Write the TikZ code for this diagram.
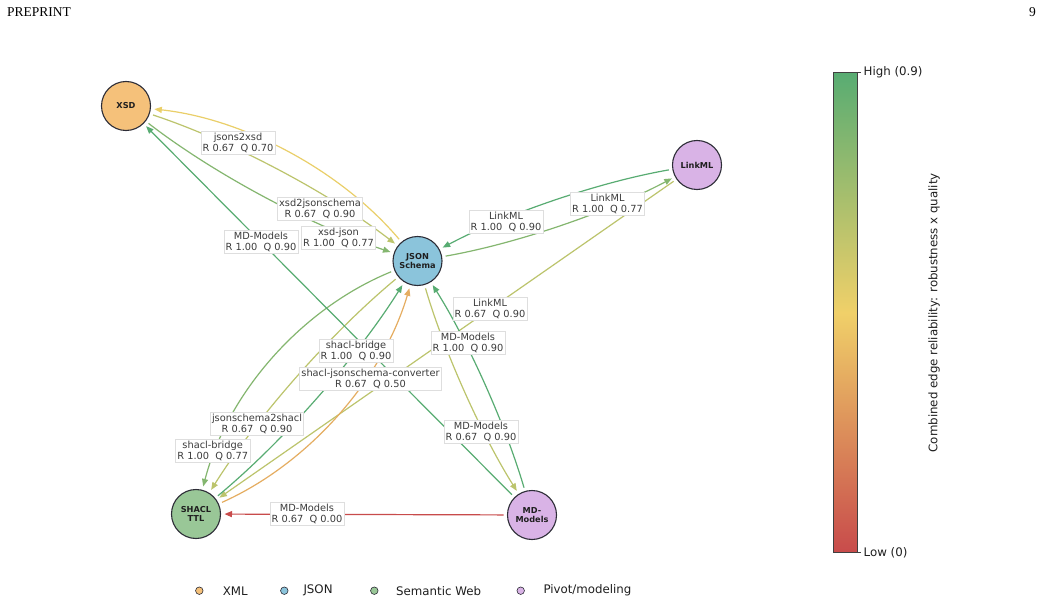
\documentclass[tikz,border=0pt]{standalone}
\usepackage{fontspec}
\setmainfont{DejaVu Sans}
\newfontfamily\headfont{Liberation Serif}
\usetikzlibrary{arrows.meta,calc}

\definecolor{cbred}{RGB}{200,75,75}
\definecolor{cbyellow}{RGB}{240,208,105}
\definecolor{cbgreen}{RGB}{88,172,114}
\colorlet{v000}{cbred}
\colorlet{v034}{cbyellow!74!cbred}
\colorlet{v047}{cbgreen!4!cbyellow}
\colorlet{v060}{cbgreen!34!cbyellow}
\colorlet{v077}{cbgreen!71!cbyellow}
\colorlet{v090}{cbgreen}
\definecolor{xmlc}{RGB}{245,193,122}
\definecolor{jsonc}{RGB}{139,196,219}
\definecolor{semc}{RGB}{153,199,151}
\definecolor{pivc}{RGB}{217,179,230}
\definecolor{nodeedge}{RGB}{45,45,55}
\definecolor{labtext}{RGB}{60,60,60}

\newcommand\arcedge[4]{% style, tail, head, 2*rad (positive = bulge to the right of travel)
  \coordinate (qq) at ($(#2.center)!0.5!(#3.center)!#4!-90:(#3.center)$);
  \coordinate (ca) at ($(#2.center)!2/3!(qq)$);
  \coordinate (cb) at ($(#3.center)!2/3!(qq)$);
  \draw[#1] (#2) .. controls (ca) and (cb) .. (#3);
}

\tikzset{
  gnode/.style={circle, draw=nodeedge, line width=1.1pt, minimum size=49pt,
    inner sep=0pt, outer sep=4pt, align=center, text=black!88,
    font=\fontsize{8.2}{8.8}\selectfont\bfseries},
  elab/.style={fill=white, draw=black!13, line width=0.6pt, inner sep=1.8pt,
    align=center, text=labtext, font=\fontsize{9.8}{11}\selectfont},
  edge/.style={line width=1.2pt, -{Triangle[length=7.5pt,width=6pt]}},
  legdot/.style={circle, draw=nodeedge, line width=0.6pt, minimum size=7.5pt, inner sep=0pt},
  legtext/.style={anchor=west, inner sep=0pt, text=black!88, font=\fontsize{11.8}{13}\selectfont},
}

\begin{document}
\begin{tikzpicture}[x=1pt,y=-1pt]
\useasboundingbox[fill=white] (0,0) rectangle (1041,604);

% header
\node[anchor=base west, inner sep=0pt, font=\headfont\fontsize{13.5}{15}\selectfont] (hdr) at (7,16.7) {PREPRINT};
\node[anchor=base east, inner sep=0pt, font=\headfont\fontsize{13.5}{15}\selectfont] (pg) at (1036,16.7) {9};

% nodes
\node[gnode, fill=xmlc] (X) at (126,106) {XSD};
\node[gnode, fill=jsonc] (J) at (417.5,261) {JSON\\Schema};
\node[gnode, fill=pivc] (L) at (697,165) {LinkML};
\node[gnode, fill=semc] (S) at (196,514) {SHACL\\TTL};
\node[gnode, fill=pivc] (M) at (532,515) {MD-\\Models};

% edges
\arcedge{edge, v047}{J}{X}{0.40}
\arcedge{edge, v060}{X}{J}{-0.17}
\arcedge{edge, v077}{X}{J}{0.17}
\arcedge{edge, v090}{L}{J}{0.16}
\arcedge{edge, v077}{J}{L}{0.16}
\draw[edge, v060] (L) -- (S);
\arcedge{edge, v077}{J}{S}{0.50}
\arcedge{edge, v060}{J}{S}{0.16}
\arcedge{edge, v090}{S}{J}{0.16}
\arcedge{edge, v034}{S}{J}{0.46}
\arcedge{edge, v060}{J}{M}{0.14}
\arcedge{edge, v090}{M}{J}{0.14}
\draw[edge, v090] (M) -- (X);
\draw[edge, v000] (M) -- (S);

% edge labels
\node[elab] (l1) at (238,143) {jsons2xsd\\R 0.67\ \ Q 0.70};
\node[elab] (l2) at (320,209) {xsd2jsonschema\\R 0.67\ \ Q 0.90};
\node[elab] (l3) at (338.5,237.5) {xsd-json\\R 1.00\ \ Q 0.77};
\node[elab] (l4) at (261,242) {MD-Models\\R 1.00\ \ Q 0.90};
\node[elab] (l5) at (506,222) {LinkML\\R 1.00\ \ Q 0.90};
\node[elab] (l6) at (607.5,204) {LinkML\\R 1.00\ \ Q 0.77};
\node[elab] (l7) at (490,309) {LinkML\\R 0.67\ \ Q 0.90};
\node[elab] (l8) at (468,342.5) {MD-Models\\R 1.00\ \ Q 0.90};
\node[elab] (l9) at (481,432) {MD-Models\\R 0.67\ \ Q 0.90};
\node[elab] (l10) at (356,351) {shacl-bridge\\R 1.00\ \ Q 0.90};
\node[elab] (l11) at (370.5,378.5) {shacl-jsonschema-converter\\R 0.67\ \ Q 0.50};
\node[elab] (l12) at (257,424) {jsonschema2shacl\\R 0.67\ \ Q 0.90};
\node[elab] (l13) at (212.7,451) {shacl-bridge\\R 1.00\ \ Q 0.77};
\node[elab] (l14) at (307,514) {MD-Models\\R 0.67\ \ Q 0.00};

% colorbar
\shade[bottom color=cbred, top color=cbgreen, middle color=cbyellow] (833,72.7) rectangle (857,552.7);
\draw[black!75, line width=0.8pt] (833,72.7) rectangle (857,552.7);
\draw[black!75, line width=0.8pt] (857,72.7) -- (861,72.7);
\draw[black!75, line width=0.8pt] (857,552.7) -- (861,552.7);
\node[legtext] (hi) at (863.5,72.7) {High (0.9)};
\node[legtext] (lo) at (863.5,552.7) {Low (0)};
\node[rotate=90, inner sep=0pt, text=black!88, font=\fontsize{11.8}{13}\selectfont] (cbl) at (934,312.7) {Combined edge reliability: robustness x quality};

% legend
\node[legdot, fill=xmlc] (d1) at (199.3,590.7) {};
\node[legtext] (t1) at (222.7,590.7) {XML};
\node[legdot, fill=jsonc] (d2) at (284.3,590.7) {};
\node[legtext] (t2) at (303.3,590.7) {JSON};
\node[legdot, fill=semc] (d3) at (374.3,590.7) {};
\node[legtext] (t3) at (396,590.7) {Semantic Web};
\node[legdot, fill=pivc] (d4) at (520.7,590.7) {};
\node[legtext] (t4) at (543.3,590.7) {Pivot/modeling};
\end{tikzpicture}
\end{document}
